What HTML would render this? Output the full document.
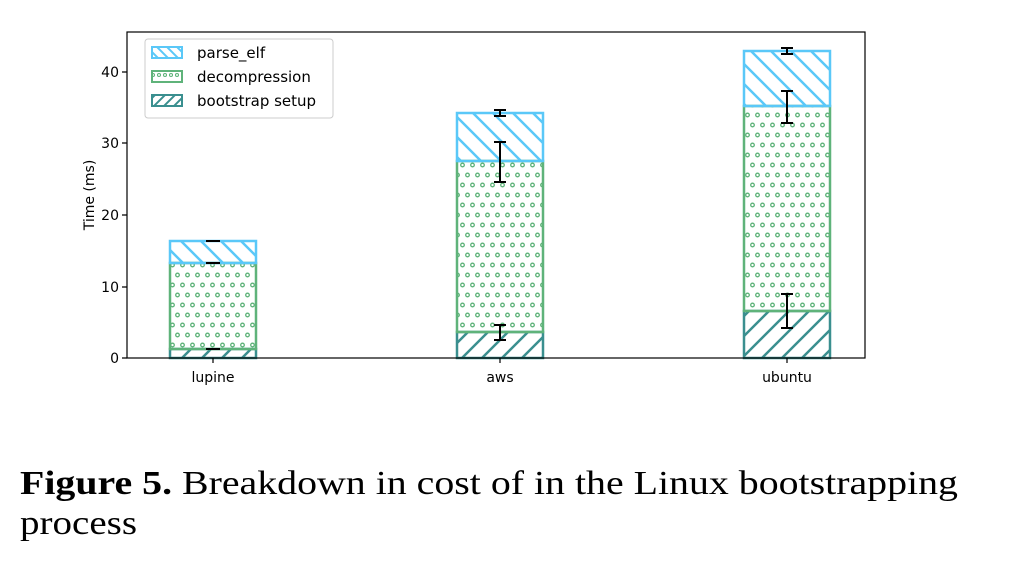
<!DOCTYPE html>
<html><head><meta charset="utf-8"><style>
body{margin:0;background:#fff;width:1016px;height:564px;overflow:hidden}
</style></head><body>
<svg width="1016" height="564" xmlns="http://www.w3.org/2000/svg" style="position:absolute;left:0;top:0">
<defs>
<pattern id="pe" width="20" height="20" patternUnits="userSpaceOnUse">
<path d="M-5,-5 L25,25 M-5,15 L5,25 M15,-5 L25,5" stroke="#5ac8f8" stroke-width="2.5"/>
</pattern>
<pattern id="dc" width="10" height="20" patternUnits="userSpaceOnUse">
<circle cx="2.5" cy="5" r="1.8" fill="none" stroke="#5fb37a" stroke-width="1.3"/>
<circle cx="7.5" cy="15" r="1.8" fill="none" stroke="#5fb37a" stroke-width="1.3"/>
</pattern>
<pattern id="bs" width="20" height="20" patternUnits="userSpaceOnUse">
<path d="M-5,25 L25,-5 M-5,5 L5,-5 M15,25 L25,15" stroke="#3a8f8f" stroke-width="2.5"/>
</pattern>
<pattern id="pe2" width="10" height="10" patternUnits="userSpaceOnUse">
<path d="M-3,-3 L13,13 M-3,7 L3,13 M7,-3 L13,3" stroke="#5ac8f8" stroke-width="2"/>
</pattern>
<pattern id="bs2" width="10" height="10" patternUnits="userSpaceOnUse">
<path d="M-3,13 L13,-3 M-3,3 L3,-3 M7,13 L13,7" stroke="#3a8f8f" stroke-width="2"/>
</pattern>
<pattern id="dc2" width="6" height="10" patternUnits="userSpaceOnUse">
<circle cx="3" cy="5" r="1.5" fill="none" stroke="#5fb37a" stroke-width="1.1"/>
</pattern>
</defs>
<g font-family="'DejaVu Sans',sans-serif" font-size="14" fill="#000">
<g stroke-width="2.5">
<rect x="170" y="349" width="86" height="9" fill="url(#bs)" stroke="#3a8f8f"/>
<rect x="170" y="263" width="86" height="86" fill="url(#dc)" stroke="#5fb37a"/>
<rect x="170" y="241" width="86" height="22" fill="url(#pe)" stroke="#5ac8f8"/>
<rect x="457" y="332" width="86" height="26" fill="url(#bs)" stroke="#3a8f8f"/>
<rect x="457" y="161" width="86" height="171" fill="url(#dc)" stroke="#5fb37a"/>
<rect x="457" y="113" width="86" height="48" fill="url(#pe)" stroke="#5ac8f8"/>
<rect x="744" y="311" width="86" height="47" fill="url(#bs)" stroke="#3a8f8f"/>
<rect x="744" y="106" width="86" height="205" fill="url(#dc)" stroke="#5fb37a"/>
<rect x="744" y="51" width="86" height="55" fill="url(#pe)" stroke="#5ac8f8"/>
</g>
<g stroke="#000" stroke-width="2">
<path d="M206,241H220M206,263H220M206,349H220"/>
<path d="M500,110V116M494,110H506M494,116H506"/>
<path d="M500,142V182M494,142H506M494,182H506"/>
<path d="M500,325V340M494,325H506M494,340H506"/>
<path d="M787,48V54M781,48H793M781,54H793"/>
<path d="M787,91V123M781,91H793M781,123H793"/>
<path d="M787,294V328M781,294H793M781,328H793"/>
</g>
<rect x="127" y="32" width="738" height="326" fill="none" stroke="#000" stroke-width="1.2"/>
<g stroke="#000" stroke-width="1.2">
<path d="M122,358H127M122,287H127M122,215H127M122,143H127M122,72H127"/>
<path d="M213,358V363M500,358V363M787,358V363"/>
</g>
<g text-anchor="end">
<text x="119" y="363">0</text><text x="119" y="292">10</text><text x="119" y="220">20</text><text x="119" y="148">30</text><text x="119" y="77">40</text>
</g>
<g text-anchor="middle">
<text x="213" y="382">lupine</text><text x="500" y="382">aws</text><text x="787" y="382">ubuntu</text>
</g>
<text transform="translate(94,195) rotate(-90)" text-anchor="middle">Time (ms)</text>
<rect x="145" y="39" width="188" height="79" rx="3" fill="#fff" stroke="#ccc"/>
<rect x="152" y="47" width="30" height="11" fill="url(#pe2)" stroke="#5ac8f8" stroke-width="2"/>
<rect x="152" y="71" width="30" height="11" fill="url(#dc2)" stroke="#5fb37a" stroke-width="2"/>
<rect x="152" y="95" width="30" height="11" fill="url(#bs2)" stroke="#3a8f8f" stroke-width="2"/>
<text x="197" y="58" font-size="15">parse_elf</text>
<text x="197" y="82" font-size="15">decompression</text>
<text x="197" y="106" font-size="15">bootstrap setup</text>
</g>
<g font-family="'Liberation Serif',serif" font-size="34" fill="#000">
<text x="20" y="494" textLength="938" lengthAdjust="spacingAndGlyphs"><tspan font-weight="bold">Figure 5.</tspan> Breakdown in cost of in the Linux bootstrapping</text>
<text x="20" y="534" textLength="117" lengthAdjust="spacingAndGlyphs">process</text>
</g>
</svg>
</body></html>
